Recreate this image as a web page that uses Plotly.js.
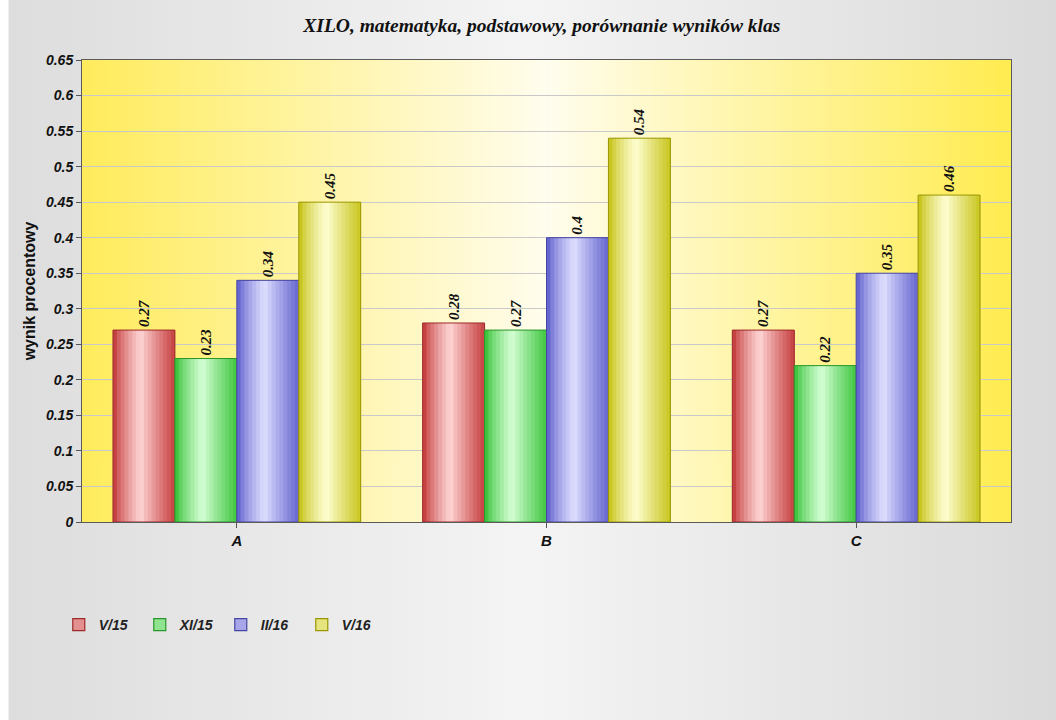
<!DOCTYPE html>
<html><head><meta charset="utf-8">
<script src="https://cdn.plot.ly/plotly-3.0.1.min.js"></script>
<style>
html,body{margin:0;padding:0;background:#fff;}
#wrap{position:absolute;left:0;top:0;width:1056px;height:720px;background:linear-gradient(to right,#ffffff 0px,#ffffff 8px,#dddddd 9px,#f4f4f4 50%,#dadada 100%);}
#chart{width:1056px;height:720px;}
</style></head><body><div id="wrap"><div id="chart"></div></div>
<script>
const categories = ['A', 'B', 'C'];
const seriesNames = ['V/15', 'XI/15', 'II/16', 'V/16'];
const v15 = [0.27, 0.28, 0.27];
const xi15 = [0.23, 0.27, 0.22];
const ii16 = [0.34, 0.40, 0.35];
const v16 = [0.45, 0.54, 0.46];
const yTickVals = [0, 0.05, 0.1, 0.15, 0.2, 0.25, 0.3, 0.35, 0.4, 0.45, 0.5, 0.55, 0.6, 0.65];
const yTickText = ['0', '0.05', '0.1', '0.15', '0.2', '0.25', '0.3', '0.35', '0.4', '0.45', '0.5', '0.55', '0.6', '0.65'];

const seriesValues = [v15, xi15, ii16, v16];
const edgeCols = [[188, 38, 38], [38, 188, 38], [80, 80, 200], [192, 188, 0]];
const lightCols = [[255, 214, 214], [214, 255, 214], [224, 224, 255], [255, 255, 212]];
const lineCols = ['#9c2a2a', '#2a962a', '#4646a0', '#9a9600'];

function mix(a, b, f) {
  return 'rgb(' + a.map((v, i) => Math.round(v + (b[i] - v) * f)).join(',') + ')';
}
function prof(t) {
  const p = 0.45;
  if (t < p) return Math.pow(t / p, 0.7);
  return 1 - Math.pow((t - p) / (1 - p), 0.9) * 0.85;
}

const traces = [];
const bw = 0.2, K = 16;
seriesValues.forEach((vals, s) => {
  const off = -0.4 + s * bw;
  for (let i = 0; i < K; i++) {
    const t = (i + 0.5) / K;
    traces.push({
      type: 'bar', x: categories, y: vals,
      offset: off + i * bw / K, width: bw - i * bw / K,
      marker: {color: mix(edgeCols[s], lightCols[s], prof(t)), line: {width: 0}},
      showlegend: false, hoverinfo: 'skip'
    });
  }
  traces.push({
    type: 'bar', x: categories, y: vals, offset: off, width: bw,
    marker: {color: 'rgba(0,0,0,0)', line: {width: 1, color: lineCols[s]}},
    text: vals.map(String), textposition: 'outside', textangle: -90,
    textfont: {family: 'Liberation Serif, Times New Roman, serif', size: 15, color: '#111', weight: 'bold', style: 'italic'},
    cliponaxis: false, showlegend: false, name: seriesNames[s]
  });
});
seriesValues.forEach((vals, s) => {
  traces.push({
    type: 'bar', x: categories, y: [null, null, null], name: seriesNames[s],
    marker: {color: mix(edgeCols[s], lightCols[s], 0.6), line: {width: 1.2, color: lineCols[s]}},
    showlegend: true
  });
});

// gradient background for the plot area
const cv = document.createElement('canvas');
cv.width = 512; cv.height = 4;
const ctx = cv.getContext('2d');
const g = ctx.createLinearGradient(0, 0, 512, 0);
g.addColorStop(0, '#ffec5c');
g.addColorStop(0.5, '#fffdee');
g.addColorStop(1, '#ffec50');
ctx.fillStyle = g; ctx.fillRect(0, 0, 512, 4);
const bgURL = cv.toDataURL();

const axFont = {family: 'Liberation Sans, Arial, sans-serif', size: 14, color: '#111', weight: 'bold', style: 'italic'};

const layout = {
  width: 1056, height: 720,
  margin: {l: 82, r: 45, t: 60, b: 198},
  paper_bgcolor: 'rgba(0,0,0,0)', plot_bgcolor: 'rgba(0,0,0,0)',
  barmode: 'overlay',
  title: {
    text: 'XILO, matematyka, podstawowy, porównanie wyników klas',
    font: {family: 'Liberation Serif, Times New Roman, serif', size: 19.5, color: '#111', weight: 'bold', style: 'italic'},
    x: 0.495, xref: 'paper', xanchor: 'center', y: 0.965, yanchor: 'middle'
  },
  xaxis: {
    type: 'category', range: [-0.5, 2.5], ticks: 'outside', ticklen: 5, tickcolor: '#555',
    tickfont: {family: 'Liberation Sans, Arial, sans-serif', size: 15, color: '#111', weight: 'bold', style: 'italic'},
    showline: true, linecolor: '#5a5a5a', linewidth: 1, mirror: true, showgrid: false, fixedrange: true
  },
  yaxis: {
    range: [0, 0.65], tickmode: 'array', tickvals: yTickVals, ticktext: yTickText,
    ticks: 'outside', ticklen: 5, tickcolor: '#555', tickfont: axFont,
    gridcolor: '#c9c9c9', gridwidth: 1, zeroline: false,
    showline: true, linecolor: '#5a5a5a', linewidth: 1, mirror: true,
    title: {text: 'wynik procentowy', font: {family: 'Liberation Sans, Arial, sans-serif', size: 16, color: '#111', weight: 'bold'}, standoff: 6}
  },
  legend: {
    orientation: 'h', x: -0.025, xanchor: 'left', y: -0.223, yanchor: 'middle',
    font: {family: 'Liberation Sans, Arial, sans-serif', size: 14, color: '#222', weight: 'bold', style: 'italic'},
    bgcolor: 'rgba(0,0,0,0)', itemwidth: 30, entrywidth: 36
  },
  images: [{source: bgURL, xref: 'paper', yref: 'paper', x: 0, y: 1, sizex: 1, sizey: 1,
            sizing: 'stretch', xanchor: 'left', yanchor: 'top', layer: 'below'}],
  showlegend: true
};

Plotly.newPlot('chart', traces, layout, {displayModeBar: false, staticPlot: true});
</script></body></html>
